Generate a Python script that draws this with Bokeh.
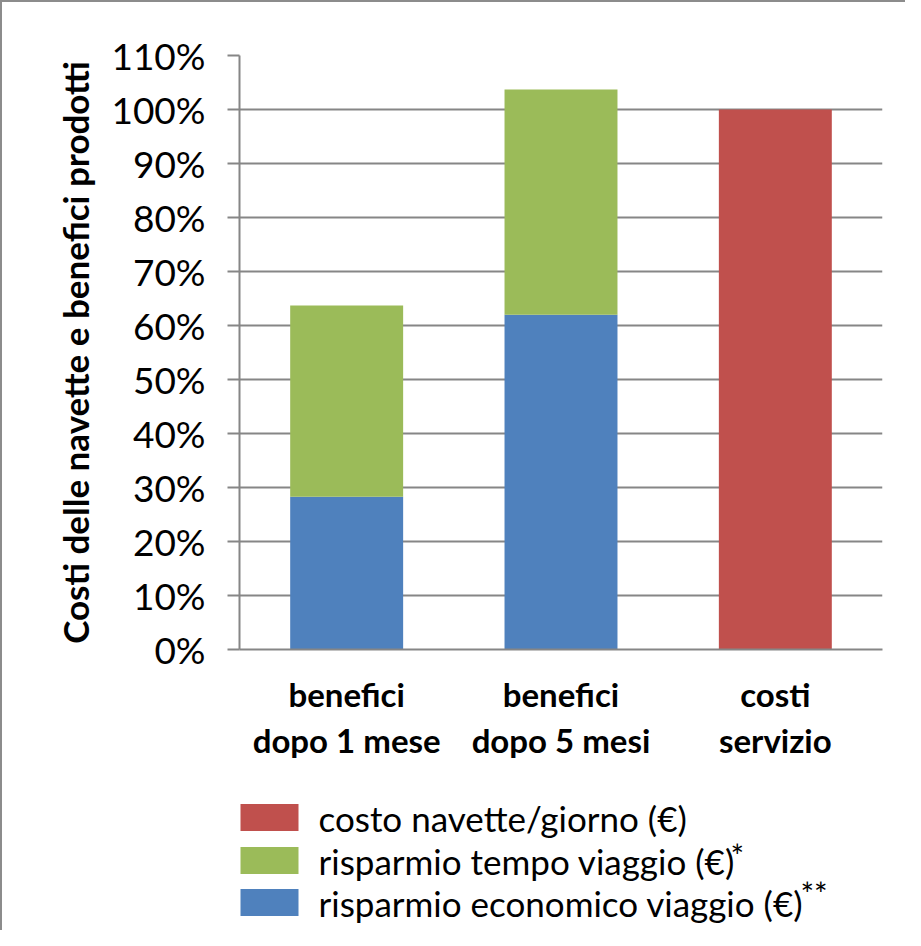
from bokeh.plotting import figure
from bokeh.layouts import column
from bokeh.models import FactorRange, Range1d, PrintfTickFormatter, FixedTicker
from bokeh.core.properties import value
from bokeh.embed import file_html
from bokeh.resources import INLINE

# ---- data ----
categories = ["benefici\ndopo 1 mese", "benefici\ndopo 5 mesi", "costi\nservizio"]
risparmio_economico = [28.3, 62.0, 0.0]
risparmio_tempo = [35.4, 41.7, 0.0]
costo_navette = [0.0, 0.0, 100.0]
y_ticks = [0, 10, 20, 30, 40, 50, 60, 70, 80, 90, 100, 110]
legend_labels = ["costo navette/giorno (€)", "risparmio tempo viaggio (€)", "risparmio economico viaggio (€)"]
legend_marks = ["*", "**"]
y_title = "Costi delle navette e benefici prodotti"

FONT = "Lato"
GRID = "#868686"
C_ECO, C_TEMPO, C_COSTO = "#4F81BD", "#9BBB59", "#C0504D"

# ---- main chart ----
p = figure(x_range=FactorRange(*categories), y_range=Range1d(0, 110),
           width=903, height=790, output_backend="svg", toolbar_location=None,
           min_border_left=237, min_border_right=23, min_border_top=53, min_border_bottom=143)
p.outline_line_color = None

source = dict(cat=categories, eco=risparmio_economico, tempo=risparmio_tempo, costo=costo_navette)
p.vbar_stack(["eco", "tempo", "costo"], x="cat", width=0.527, source=source,
             color=[C_ECO, C_TEMPO, C_COSTO], line_color=None)

p.yaxis.ticker = FixedTicker(ticks=y_ticks)
p.yaxis.formatter = PrintfTickFormatter(format="%d%%")
p.yaxis.major_label_text_font = FONT
p.yaxis.major_label_text_font_size = "37px"
p.yaxis.major_label_text_color = "black"
p.yaxis.major_label_standoff = 22
p.yaxis.major_tick_out = 12
p.yaxis.major_tick_in = 0
p.yaxis.major_tick_line_color = GRID
p.yaxis.major_tick_line_width = 2
p.yaxis.minor_tick_line_color = None
p.yaxis.axis_line_color = GRID
p.yaxis.axis_line_width = 2
p.yaxis.axis_label = y_title
p.yaxis.axis_label_text_font = FONT
p.yaxis.axis_label_text_font_size = "35px"
p.yaxis.axis_label_text_font_style = "bold"
p.yaxis.axis_label_text_color = "black"
p.yaxis.axis_label_standoff = 12

p.xaxis.major_label_text_font = FONT
p.xaxis.major_label_text_font_size = "33px"
p.xaxis.major_label_text_font_style = "bold"
p.xaxis.major_label_text_color = "black"
p.xaxis.major_label_text_line_height = 1.15
p.xaxis.major_label_standoff = 18
p.xaxis.major_tick_line_color = None
p.xaxis.axis_line_color = GRID
p.xaxis.axis_line_width = 2

p.xgrid.grid_line_color = None
p.ygrid.grid_line_color = GRID
p.ygrid.grid_line_width = 2

# ---- legend (drawn in its own strip below the chart; x data = pixels) ----
H2 = 138
lg = figure(width=903, height=H2, x_range=Range1d(237, 880), y_range=Range1d(H2, 0),
            output_backend="svg", toolbar_location=None,
            min_border_left=237, min_border_right=23, min_border_top=0, min_border_bottom=0)
lg.axis.visible = False
lg.grid.grid_line_color = None
lg.outline_line_color = None

row_y = [25, 68, 110]
lg.rect(x=267, y=row_y, width=58, height=27, color=[C_COSTO, C_TEMPO, C_ECO], line_color=None)
lg.text(x=316, y=row_y, text=legend_labels, text_baseline="middle", text_align="left",
        text_font=value(FONT), text_font_size="35px", text_color="black")
lg.text(x=[728, 798], y=[63, 101], text=legend_marks, text_baseline="middle", text_align="left",
        text_font=value(FONT), text_font_size="32px", text_color="black")

layout = column(p, lg, spacing=0)
layout.styles = {"border-left": "2px solid #8c8c8c", "border-top": "2px solid #8c8c8c"}

open("out.html", "w").write(file_html(layout, INLINE))
